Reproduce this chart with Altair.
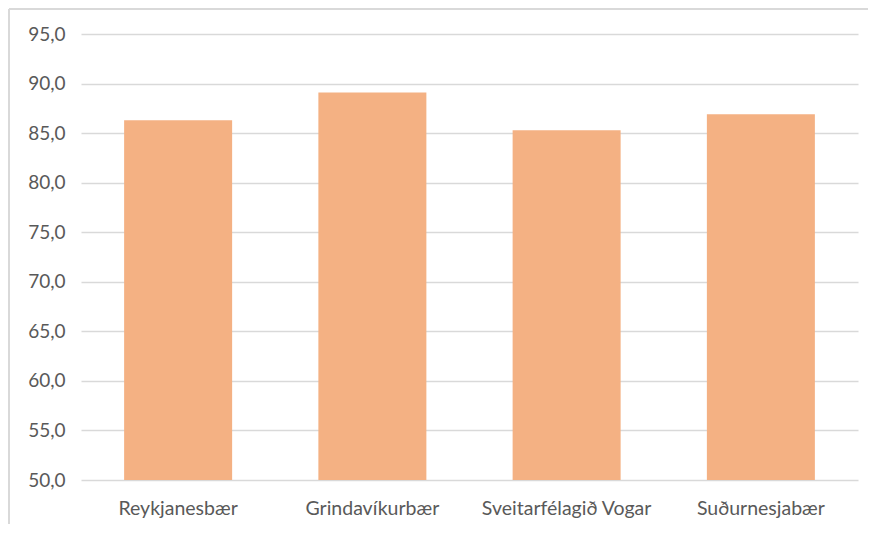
import altair as alt
import pandas as pd

categories = ["Reykjanesbær", "Grindavíkurbær", "Sveitarfélagið Vogar", "Suðurnesjabær"]
values = [86.3, 89.1, 85.3, 86.9]
y_ticks = [50, 55, 60, 65, 70, 75, 80, 85, 90, 95]

df = pd.DataFrame({"cat": categories, "val": values})

FONT = "Lato"
GRID = "#d9d9d9"
TEXT = "#595959"

bars = alt.Chart(df).mark_bar(color="#F4B183", clip=True).encode(
    x=alt.X("cat:N", sort=categories, title=None,
            scale=alt.Scale(paddingInner=0.444, paddingOuter=0.222),
            axis=alt.Axis(labelAngle=0, ticks=False, domain=False, labelPadding=19,
                          labelFontSize=19.5, labelColor=TEXT, labelFont=FONT, grid=False)),
    y=alt.Y("val:Q", title=None,
            scale=alt.Scale(domain=[50, 95], nice=False, zero=False),
            axis=alt.Axis(values=y_ticks, ticks=False, domain=False, labelPadding=16,
                          labelFontSize=19, labelColor=TEXT, labelFont=FONT,
                          gridColor=GRID, gridWidth=1.5,
                          labelExpr="replace(format(datum.value, '.1f'), '.', ',')")),
)

frame_top = alt.Chart(df).mark_rule(color=GRID, strokeWidth=1.5, clip=False).encode(
    x=alt.value(-72), x2=alt.value(800), y=alt.value(-25)
)
frame_left = alt.Chart(df).mark_rule(color=GRID, strokeWidth=1.5, clip=False).encode(
    x=alt.value(-72), y=alt.value(-25), y2=alt.value(500)
)

chart = alt.layer(frame_top, frame_left, bars).properties(
    width=777, height=446,
    padding={"left": 73, "top": 26, "right": 10, "bottom": 44},
    autosize=alt.AutoSizeParams(type="none"),
).configure_view(stroke=None)

chart.save("out.html", embed_options={"renderer": "svg", "actions": False})
